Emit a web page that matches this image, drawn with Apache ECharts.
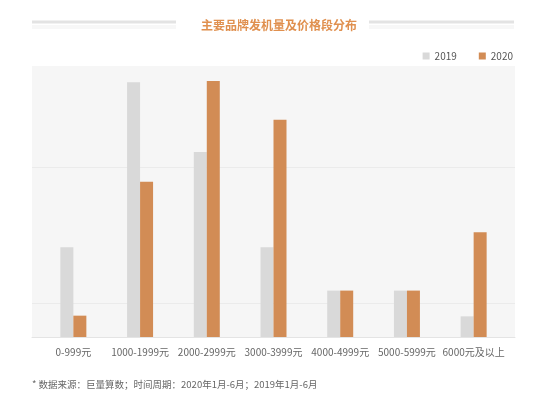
<!DOCTYPE html>
<html>
<head>
<meta charset="utf-8">
<script src="https://cdn.jsdelivr.net/npm/echarts@6/dist/echarts.min.js"></script>
<style>
html, body { margin: 0; padding: 0; background: #fff; }
#main { width: 554px; height: 402px; }
</style>
</head>
<body>
<div id="main"></div>
<script>
var categories = ["0-999元", "1000-1999元", "2000-2999元", "3000-3999元", "4000-4999元", "5000-5999元", "6000元及以上"];
var values2019 = [26.5, 75.2, 54.6, 26.5, 13.7, 13.7, 6.1];
var values2020 = [6.3, 45.8, 75.6, 64.1, 13.7, 13.7, 30.9];
var seriesNames = ["2019", "2020"];
var guideLines = [10, 50];
var axisMax = 80;

var font = "'Noto Sans CJK SC', 'Noto Sans', sans-serif";

var option = {
    textStyle: { fontFamily: font },
    title: {
        text: "主要品牌发机量及价格段分布",
        left: 196,
        top: 14,
        textStyle: { color: "#e0904f", fontSize: 12, fontWeight: "bold", fontFamily: font }
    },
    graphic: [
        { type: "rect", shape: { x: 32, y: 20.5, width: 144, height: 3 }, style: { fill: "#e3e3e3" }, silent: true },
        { type: "rect", shape: { x: 369, y: 20.5, width: 145, height: 3 }, style: { fill: "#e3e3e3" }, silent: true },
        { type: "rect", shape: { x: 32, y: 25, width: 144, height: 4 }, style: { fill: "#f7f7f7" }, silent: true },
        { type: "rect", shape: { x: 369, y: 25, width: 145, height: 4 }, style: { fill: "#f7f7f7" }, silent: true },
        {
            type: "text", left: 32, top: 380, silent: true,
            style: { text: "* 数据来源：巨量算数；时间周期：2020年1月-6月；2019年1月-6月", fill: "#666", font: "9.5px " + font }
        }
    ],
    legend: {
        data: seriesNames,
        right: 36,
        top: 46,
        itemWidth: 7,
        itemHeight: 7,
        itemGap: 22,
        icon: "rect",
        textStyle: { color: "#555", fontSize: 10 }
    },
    grid: [
        { left: 32, right: 39, top: 66, bottom: 65, show: true, backgroundColor: "#f6f6f6", borderWidth: 0 },
        { left: 40, right: 47, top: 66, bottom: 65 }
    ],
    xAxis: [
        {
            type: "category", gridIndex: 0, data: categories,
            axisLine: { lineStyle: { color: "#e4e4e4" } },
            axisTick: { show: false }, axisLabel: { show: false }
        },
        {
            type: "category", gridIndex: 1, data: categories,
            axisLine: { show: false }, axisTick: { show: false },
            axisLabel: { color: "#666", fontSize: 10, margin: 10, interval: 0 }
        }
    ],
    yAxis: [
        { type: "value", gridIndex: 0, min: 0, max: axisMax, show: false, splitLine: { show: false } },
        { type: "value", gridIndex: 1, min: 0, max: axisMax, show: false, splitLine: { show: false } }
    ],
    series: [
        {
            type: "line", xAxisIndex: 0, yAxisIndex: 0, data: [], silent: true, z: 0,
            markLine: {
                z: 1, silent: true, symbol: "none", label: { show: false },
                lineStyle: { color: "#ebebeb", type: "solid", width: 1 },
                data: guideLines.map(function (v) { return { yAxis: v }; })
            }
        },
        {
            name: seriesNames[0], type: "bar", xAxisIndex: 1, yAxisIndex: 1,
            barWidth: 13, barGap: "0%", z: 3,
            itemStyle: { color: "#d9d9d9" },
            data: values2019
        },
        {
            name: seriesNames[1], type: "bar", xAxisIndex: 1, yAxisIndex: 1,
            barWidth: 13, barGap: "0%", z: 3,
            itemStyle: { color: "#d28c55" },
            data: values2020
        }
    ]
};

echarts.init(document.getElementById("main")).setOption(option);
</script>
</body>
</html>
